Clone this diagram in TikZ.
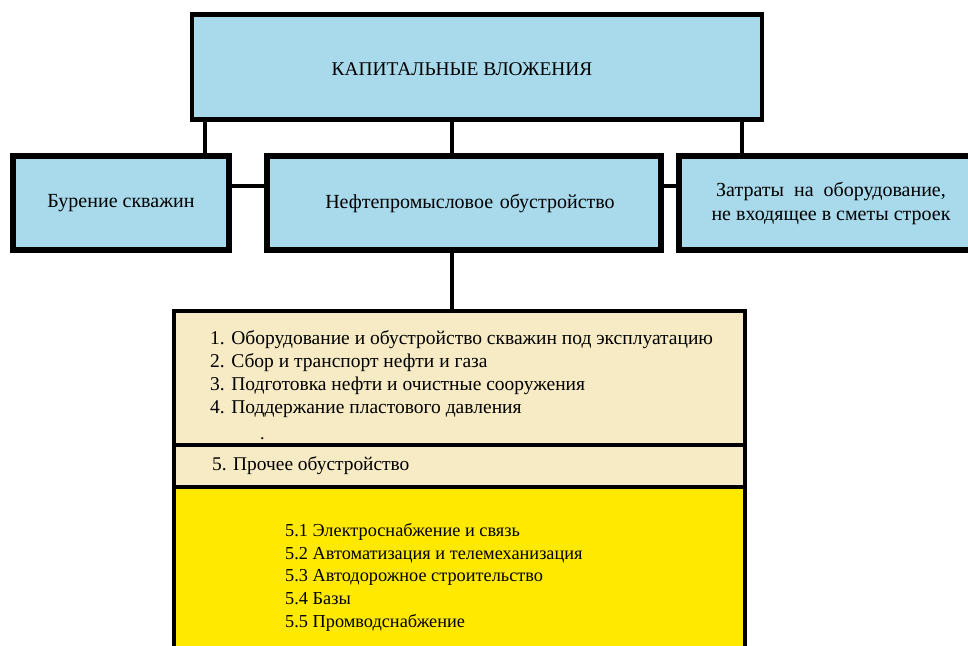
\documentclass[tikz,border=0pt]{standalone}
\usepackage{fontspec}
\setmainfont{Liberation Serif}
\definecolor{skyfill}{HTML}{A8DAEC}
\definecolor{sandfill}{HTML}{F6EBC4}
\definecolor{lemonfill}{HTML}{FFE900}
\begin{document}
\begin{tikzpicture}[x=1pt,y=-1pt,
  topbox/.style={draw,fill=skyfill,line width=4.5pt,inner sep=0pt},
  rowbox/.style={draw,fill=skyfill,line width=6pt,inner sep=0pt,minimum height=94pt,font=\fontsize{20}{24}\selectfont},
  part/.style={draw,line width=3.5pt,inner sep=0pt,minimum width=571pt},
  txt/.style={anchor=north west,align=left,inner sep=0pt},
  link/.style={line width=4pt}]
\useasboundingbox (0,0) rectangle (968,645);
\clip (0,0) rectangle (968,645);
% top
\node[topbox,minimum width=570pt,minimum height=105pt] (cap) at (477,67) {};
\node[font=\fontsize{19.4}{23}\selectfont] (captxt) at (462,69) {КАПИТАЛЬНЫЕ ВЛОЖЕНИЯ};
% second row
\node[rowbox,minimum width=216pt] (drill) at (121,203) {Бурение скважин};
\node[rowbox,minimum width=394pt,text width=380pt,align=center] (field) at (464,203) {\raisebox{-2pt}{\hspace*{12pt}Нефтепромысловое обустройство}};
\node[rowbox,minimum width=304pt,align=center] (equip) at (831,203) {\raisebox{-2pt}{Затраты\ \ на\ \ оборудование,}\\\raisebox{-2pt}{не входящее в сметы строек}};
\foreach \x/\n in {205/drill,452/field,742/equip}
  \draw[link] (cap.south -| \x,0) -- (\n.north -| \x,0);
\draw[link] ([yshift=17pt]drill.east) -- ([yshift=17pt]field.west);
\draw[link] ([yshift=17pt]field.east) -- ([yshift=17pt]equip.west);
% lower block
\node[part,fill=sandfill,minimum height=134pt] (list) at (459.5,378) {};
\node[part,fill=sandfill,minimum height=42pt] (other) at (459.5,466) {};
\node[part,fill=lemonfill,minimum height=173pt] (sub) at (459.5,573.5) {};
\draw[link] (field.south -| 452,0) -- (list.north -| 452,0);
\node[txt,font=\fontsize{19.5}{23}\selectfont] (listtxt) at (210,330) {1. Оборудование и обустройство скважин под эксплуатацию\\2. Сбор и транспорт нефти и газа\\3. Подготовка нефти и очистные сооружения\\4. Поддержание пластового давления};
\node[txt,font=\fontsize{18}{20}\selectfont] (dot) at (260,437) {.};
\node[txt,font=\fontsize{19.4}{23}\selectfont] (othertxt) at (212,456) {5. Прочее обустройство};
\node[txt,font=\fontsize{18.3}{22.8}\selectfont] (subtxt) at (285,523) {5.1 Электроснабжение и связь\\5.2 Автоматизация и телемеханизация\\5.3 Автодорожное строительство\\5.4 Базы\\5.5 Промводснабжение};
\end{tikzpicture}
\end{document}
